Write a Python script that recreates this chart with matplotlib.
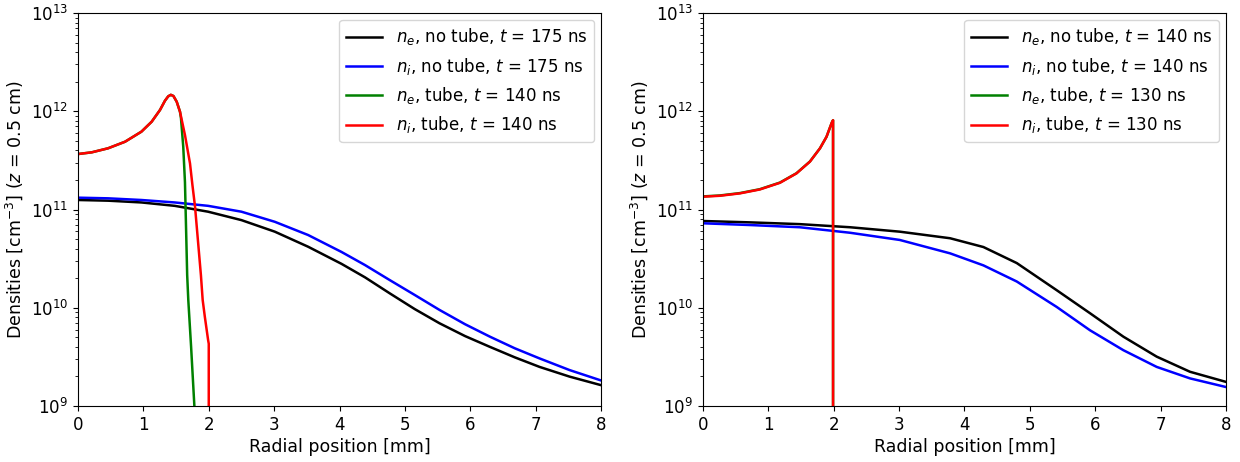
import matplotlib
matplotlib.use("Agg")
import matplotlib.pyplot as plt

# ---------------- Left panel data ----------------
L_nt_x = [0.0, 0.46, 0.97, 1.48, 1.99, 2.50, 3.01, 3.52, 4.03, 4.39, 4.77, 5.15, 5.53,
          5.92, 6.3, 6.68, 7.06, 7.52, 8.0]
L_ne_nt = [1.25e11, 1.23e11, 1.18e11, 1.09e11, 9.5e10, 7.8e10, 5.95e10, 4.18e10, 2.8e10,
           2.04e10, 1.40e10, 9.7e9, 6.95e9, 5.15e9, 4.0e9, 3.13e9, 2.5e9, 1.99e9, 1.63e9]
L_ni_nt = [1.32e11, 1.30e11, 1.25e11, 1.18e11, 1.09e11, 9.5e10, 7.5e10, 5.5e10, 3.7e10,
           2.72e10, 1.91e10, 1.35e10, 9.5e9, 6.8e9, 5.08e9, 3.87e9, 3.05e9, 2.32e9, 1.82e9]

L_ni_t_x = [0.0, 0.21, 0.46, 0.72, 0.97, 1.127, 1.254, 1.33, 1.38, 1.42, 1.46, 1.51, 1.56,
            1.636, 1.713, 1.75, 1.79, 1.88, 1.907, 1.94, 1.99, 2.0, 2.0]
L_ni_t = [3.67e11, 3.82e11, 4.2e11, 4.9e11, 6.2e11, 7.83e11, 1.03e12, 1.28e12, 1.42e12,
          1.47e12, 1.43e12, 1.25e12, 9.9e11, 5.73e11, 2.95e11, 1.78e11, 1.07e11, 2.15e10,
          1.2e10, 8.1e9, 4.7e9, 4.3e9, 1e8]
L_ne_t_x = [0.0, 0.21, 0.46, 0.72, 0.97, 1.127, 1.254, 1.33, 1.38, 1.42, 1.46, 1.51, 1.56,
            1.575, 1.61, 1.636, 1.67, 1.687, 1.73, 1.78, 1.8]
L_ne_t = [3.67e11, 3.82e11, 4.2e11, 4.9e11, 6.2e11, 7.83e11, 1.03e12, 1.28e12, 1.42e12,
          1.47e12, 1.43e12, 1.25e12, 9.9e11, 8.5e11, 4.35e11, 1.9e11, 2.15e10, 1.2e10,
          4.0e9, 1.0e9, 7e8]

# ---------------- Right panel data ----------------
R_nt_x = [0.0, 0.72, 1.48, 2.25, 3.01, 3.78, 4.29, 4.8, 5.41, 5.92, 6.43, 6.94, 7.45, 8.0]
R_ne_nt = [7.64e10, 7.4e10, 7.1e10, 6.6e10, 5.95e10, 5.1e10, 4.15e10, 2.85e10, 1.51e10,
           8.8e9, 5.08e9, 3.18e9, 2.23e9, 1.76e9]
R_ni_nt = [7.24e10, 6.95e10, 6.6e10, 5.8e10, 4.9e10, 3.58e10, 2.7e10, 1.85e10, 1.02e10,
           5.9e9, 3.7e9, 2.5e9, 1.91e9, 1.56e9]

R_t_x = [0.0, 0.26, 0.566, 0.87, 1.177, 1.43, 1.636, 1.79, 1.89, 1.97, 1.99, 1.99]
R_ni_t = [1.35e11, 1.38e11, 1.46e11, 1.6e11, 1.87e11, 2.33e11, 3.07e11, 4.2e11, 5.5e11,
          7.65e11, 8.1e11, 1e8]
R_ne_t = [1.36e11, 1.39e11, 1.47e11, 1.61e11, 1.88e11, 2.34e11, 3.08e11, 4.2e11, 5.5e11,
          7.65e11, 8.1e11, 1e8]

L_labels = [r"$n_e$, no tube, $t$ = 175 ns", r"$n_i$, no tube, $t$ = 175 ns",
            r"$n_e$, tube, $t$ = 140 ns", r"$n_i$, tube, $t$ = 140 ns"]
R_labels = [r"$n_e$, no tube, $t$ = 140 ns", r"$n_i$, no tube, $t$ = 140 ns",
            r"$n_e$, tube, $t$ = 130 ns", r"$n_i$, tube, $t$ = 130 ns"]

plt.rcParams['font.size'] = 12
fig = plt.figure(figsize=(12.4, 4.62), dpi=100)
axL = fig.add_axes([0.0629, 0.1212, 0.4218, 0.8506])
axR = fig.add_axes([0.5669, 0.1212, 0.4218, 0.8506])

lw = 1.8
panels = [
    (axL, L_nt_x, L_ne_nt, L_ni_nt, L_ne_t_x, L_ne_t, L_ni_t_x, L_ni_t, L_labels),
    (axR, R_nt_x, R_ne_nt, R_ni_nt, R_t_x, R_ne_t, R_t_x, R_ni_t, R_labels),
]
for ax, xnt, ent, int_, xet, et, xit, it, labels in panels:
    ax.plot(xnt, ent, color='black', lw=lw, label=labels[0])
    ax.plot(xnt, int_, color='blue', lw=lw, label=labels[1])
    ax.plot(xet, et, color='green', lw=lw, label=labels[2])
    ax.plot(xit, it, color='red', lw=lw, label=labels[3])
    ax.set_yscale('log')
    ax.set_xlim(0, 8)
    ax.set_ylim(1e9, 1e13)
    ax.set_xticks(range(0, 9))
    ax.tick_params(labelsize=12)
    ax.set_xlabel("Radial position [mm]", fontsize=12.5, labelpad=3)
    ax.set_ylabel(r"Densities [cm$^{-3}$] ($z$ = 0.5 cm)", fontsize=12.5)
    ax.legend(loc='upper right', fontsize=12, handlelength=2.15,
              handletextpad=0.85, labelspacing=0.5, borderaxespad=0.4)

fig.savefig("out.png", dpi=100)
